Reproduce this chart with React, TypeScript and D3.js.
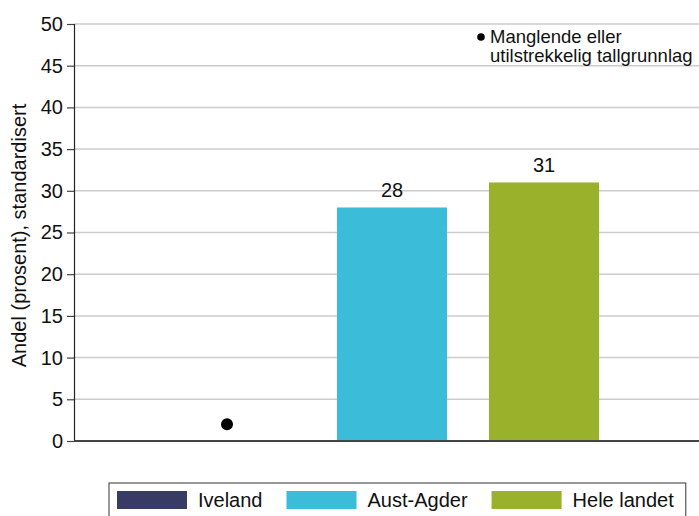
import React, { useEffect, useRef } from "react";
import * as d3 from "d3";

// Chart data
const SERIES = ["Iveland", "Aust-Agder", "Hele landet"];
const VALUES: (number | null)[] = [null, 28, 31];
const COLORS = ["#383c64", "#3bbcd9", "#9ab22b"];
const MISSING_MARK = 2; // position of the "missing data" dot
const Y_TICKS = [0, 5, 10, 15, 20, 25, 30, 35, 40, 45, 50];
const Y_LABEL = "Andel (prosent), standardisert";
const NOTE_LINES = ["Manglende eller", "utilstrekkelig tallgrunnlag"];

const WIDTH = 699;
const HEIGHT = 516;
const FONT = "'Liberation Sans', Arial, sans-serif";

export default function App() {
  const svgRef = useRef<SVGSVGElement>(null);

  useEffect(() => {
    document.body.style.margin = "0";
    if (!svgRef.current) return;
    const svg = d3.select(svgRef.current);
    svg.selectAll("*").remove();

    const margin = { top: 24, right: 0, bottom: 75, left: 74 };
    const plotW = WIDTH - margin.left - margin.right;
    const plotH = HEIGHT - margin.top - margin.bottom;

    const g = svg
      .append("g")
      .attr("transform", `translate(${margin.left},${margin.top})`);

    const x = d3
      .scaleBand<string>()
      .domain(SERIES)
      .range([90, 546])
      .paddingInner(0.276)
      .paddingOuter(0.138);

    const y = d3.scaleLinear().domain([0, 50]).range([plotH, 0]);

    // Gridlines
    g.append("g")
      .selectAll("line")
      .data(Y_TICKS.filter((t) => t > 0))
      .enter()
      .append("line")
      .attr("x1", 0)
      .attr("x2", plotW)
      .attr("y1", (d) => y(d))
      .attr("y2", (d) => y(d))
      .attr("stroke", "#cccccc")
      .attr("stroke-width", 1.5);

    // Y axis
    const yAxis = g
      .append("g")
      .call(d3.axisLeft(y).tickValues(Y_TICKS).tickSize(7).tickPadding(4));
    yAxis.select(".domain").attr("stroke", "#222").attr("stroke-width", 1.2);
    yAxis.selectAll(".tick line").attr("stroke", "#444").attr("stroke-width", 1.2);
    yAxis
      .selectAll("text")
      .style("font-family", FONT)
      .style("font-size", "20px")
      .attr("fill", "#111");

    // Bars
    SERIES.forEach((s, i) => {
      const v = VALUES[i];
      const bx = x(s) as number;
      if (v === null) {
        g.append("circle")
          .attr("cx", bx + x.bandwidth() / 2 - 13)
          .attr("cy", y(MISSING_MARK))
          .attr("r", 6)
          .attr("fill", "#000");
        return;
      }
      g.append("rect")
        .attr("x", bx)
        .attr("y", y(v))
        .attr("width", x.bandwidth())
        .attr("height", plotH - y(v))
        .attr("fill", COLORS[i]);
      g.append("text")
        .attr("x", bx + x.bandwidth() / 2)
        .attr("y", y(v) - 10)
        .attr("text-anchor", "middle")
        .style("font-family", FONT)
        .style("font-size", "20px")
        .attr("fill", "#111")
        .text(String(v));
    });

    // Baseline
    g.append("line")
      .attr("x1", 0)
      .attr("x2", plotW)
      .attr("y1", plotH)
      .attr("y2", plotH)
      .attr("stroke", "#444")
      .attr("stroke-width", 2.2);

    // Y label
    svg
      .append("text")
      .attr("transform", `translate(26,${margin.top + plotH / 2 + 3}) rotate(-90)`)
      .attr("text-anchor", "middle")
      .style("font-family", FONT)
      .style("font-size", "20px")
      .attr("fill", "#111")
      .text(Y_LABEL);

    // Note in the top right
    const note = svg.append("g").attr("transform", "translate(474,27)");
    note.append("circle").attr("cx", 7).attr("cy", 10).attr("r", 3.8).attr("fill", "#000");
    NOTE_LINES.forEach((line, i) => {
      note
        .append("text")
        .attr("x", 16)
        .attr("y", 16 + i * 19)
        .style("font-family", FONT)
        .style("font-size", "18.5px")
        .attr("fill", "#111")
        .text(line);
    });

    // Legend
    const legend = svg.append("g").attr("transform", "translate(109,483)");
    const legendBox = legend
      .append("rect")
      .attr("x", 0)
      .attr("y", 0)
      .attr("height", 40)
      .attr("fill", "#fff")
      .attr("stroke", "#555")
      .attr("stroke-width", 1.2);
    let cursor = 8;
    SERIES.forEach((s, i) => {
      legend
        .append("rect")
        .attr("x", cursor)
        .attr("y", 8)
        .attr("width", 70)
        .attr("height", 18)
        .attr("fill", COLORS[i]);
      const t = legend
        .append("text")
        .attr("x", cursor + 81)
        .attr("y", 24)
        .style("font-family", FONT)
        .style("font-size", "20px")
        .attr("fill", "#111")
        .text(s);
      const w = (t.node() as SVGTextElement).getComputedTextLength();
      cursor = cursor + 81 + w + 24;
    });
    legendBox.attr("width", cursor - 24 + 12);
  }, []);

  return (
    <svg
      ref={svgRef}
      width={WIDTH}
      height={HEIGHT}
      style={{ display: "block", background: "#fff" }}
    />
  );
}
